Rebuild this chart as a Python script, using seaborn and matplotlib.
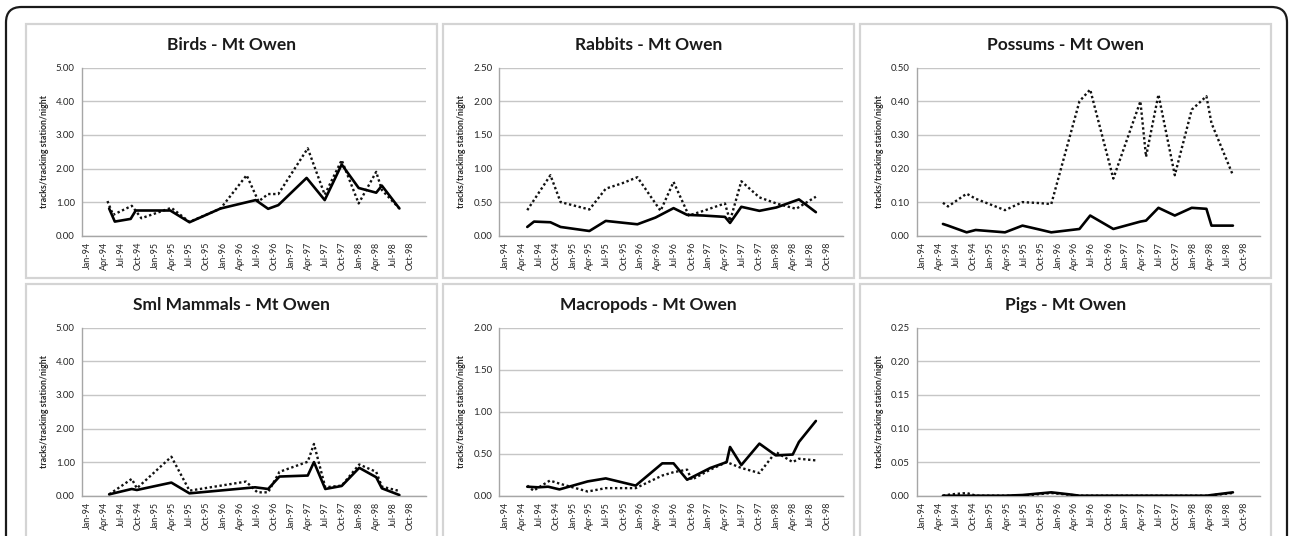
import numpy as np
import pandas as pd
import matplotlib
matplotlib.use("Agg")
import matplotlib.pyplot as plt
import seaborn as sns
from matplotlib.patches import FancyBboxPatch, Rectangle

# ---------------- data (x = months since Jan-1994) ----------------
tick_labels = ["Jan-94", "Apr-94", "Jul-94", "Oct-94", "Jan-95", "Apr-95", "Jul-95",
               "Oct-95", "Jan-96", "Apr-96", "Jul-96", "Oct-96", "Jan-97", "Apr-97",
               "Jul-97", "Oct-97", "Jan-98", "Apr-98", "Jul-98", "Oct-98"]
tick_months = [0, 3, 6, 9, 12, 15, 18, 21, 24, 27, 30, 33, 36, 39, 42, 45, 48, 51, 54, 57]

titles = ["Birds - Mt Owen", "Rabbits - Mt Owen", "Possums - Mt Owen",
          "Sml Mammals - Mt Owen", "Macropods - Mt Owen", "Pigs - Mt Owen"]
y_max = [5.0, 2.5, 0.5, 5.0, 2.0, 0.25]
y_step = [1.0, 0.5, 0.1, 1.0, 0.5, 0.05]

birds_x_solid = [3.8, 4.8, 7.6, 8.5, 14.6, 18.0, 23.5, 29.7, 31.9, 33.7, 38.7, 41.9, 44.9, 47.9, 51.0, 52.0, 55.1]
birds_solid = [0.81, 0.42, 0.50, 0.75, 0.75, 0.40, 0.81, 1.06, 0.80, 0.91, 1.72, 1.06, 2.12, 1.42, 1.28, 1.49, 0.81]
birds_x_dot = [3.5, 4.5, 7.8, 9.5, 14.8, 18.0, 23.5, 28.1, 30.2, 31.9, 33.7, 38.9, 41.9, 44.9, 47.9, 51.0, 52.0, 55.1]
birds_dot = [1.03, 0.62, 0.89, 0.52, 0.83, 0.41, 0.81, 1.80, 1.02, 1.24, 1.24, 2.60, 1.22, 2.25, 0.96, 1.90, 1.36, 0.81]

rabbits_x_solid = [3.9, 5.1, 8.0, 9.8, 14.9, 17.8, 23.4, 26.6, 29.8, 32.2, 35.1, 38.9, 39.8, 41.8, 45.0, 48.0, 52.0, 55.0]
rabbits_solid = [0.13, 0.21, 0.20, 0.13, 0.07, 0.22, 0.17, 0.27, 0.41, 0.31, 0.30, 0.28, 0.19, 0.43, 0.37, 0.42, 0.54, 0.35]
rabbits_x_dot = [3.9, 8.0, 9.8, 14.9, 17.8, 20.7, 23.4, 27.5, 29.8, 32.5, 35.1, 38.9, 39.8, 41.8, 45.0, 48.0, 51.5, 55.0]
rabbits_dot = [0.38, 0.90, 0.50, 0.39, 0.70, 0.78, 0.87, 0.37, 0.80, 0.30, 0.37, 0.48, 0.22, 0.81, 0.57, 0.48, 0.40, 0.58]

possums_x = [3.6, 4.5, 7.8, 9.4, 14.6, 17.7, 20.8, 22.8, 27.8, 29.7, 33.8, 38.6, 39.6, 41.8, 44.7, 47.7, 50.3, 51.2, 55.0]
possums_solid = [0.035, 0.030, 0.010, 0.017, 0.010, 0.030, 0.018, 0.010, 0.020, 0.060, 0.020, 0.042, 0.045, 0.083, 0.060, 0.083, 0.080, 0.030, 0.030]
possums_dot = [0.098, 0.087, 0.125, 0.110, 0.076, 0.100, 0.097, 0.094, 0.400, 0.435, 0.170, 0.400, 0.235, 0.420, 0.180, 0.375, 0.415, 0.335, 0.180]

sml_x_solid = [3.8, 7.8, 8.7, 14.8, 18.0, 29.6, 31.9, 33.9, 38.9, 40.0, 42.0, 44.9, 48.0, 51.0, 52.0, 55.1]
sml_solid = [0.04, 0.20, 0.17, 0.39, 0.07, 0.25, 0.20, 0.57, 0.60, 1.00, 0.20, 0.29, 0.83, 0.55, 0.22, 0.02]
sml_x_dot = [3.8, 7.8, 8.7, 14.8, 18.0, 28.0, 30.0, 31.9, 33.9, 38.9, 40.0, 42.0, 44.9, 48.0, 51.0, 52.0, 55.1]
sml_dot = [0.04, 0.50, 0.22, 1.16, 0.15, 0.42, 0.10, 0.10, 0.71, 1.01, 1.54, 0.25, 0.30, 0.93, 0.71, 0.27, 0.14]

macro_x_solid = [3.9, 5.8, 7.6, 9.6, 14.6, 17.8, 23.1, 27.8, 29.8, 32.2, 36.3, 39.2, 39.8, 41.8, 45.0, 47.9, 50.9, 52.0, 55.0]
macro_solid = [0.107, 0.100, 0.107, 0.075, 0.170, 0.206, 0.120, 0.385, 0.385, 0.190, 0.330, 0.400, 0.580, 0.365, 0.620, 0.480, 0.490, 0.640, 0.890]
macro_x_dot = [3.9, 5.0, 7.9, 9.8, 14.6, 17.8, 23.1, 27.8, 29.8, 32.2, 33.0, 36.3, 39.2, 41.8, 45.0, 47.9, 50.9, 52.0, 55.0]
macro_dot = [0.12, 0.06, 0.18, 0.14, 0.05, 0.09, 0.09, 0.24, 0.28, 0.31, 0.19, 0.31, 0.40, 0.33, 0.27, 0.52, 0.40, 0.44, 0.42]

pigs_x_solid = [3.6, 7.8, 9.5, 14.6, 17.7, 22.8, 26.0, 27.8, 33.8, 38.6, 41.8, 44.7, 47.7, 50.3, 51.2, 55.0]
pigs_solid = [0.0, 0.0, 0.0, 0.0, 0.001, 0.005, 0.002, 0.0, 0.0, 0.0, 0.0, 0.0, 0.0, 0.0, 0.001, 0.005]
pigs_x_dot = [3.6, 5.0, 6.5, 7.8, 9.5, 14.6, 17.7, 22.8, 27.8, 50.3, 55.0]
pigs_dot = [0.0, 0.002, 0.003, 0.004, 0.0, 0.0, 0.0, 0.004, 0.0, 0.0, 0.004]

series = [
    (birds_x_solid, birds_solid, birds_x_dot, birds_dot),
    (rabbits_x_solid, rabbits_solid, rabbits_x_dot, rabbits_dot),
    (possums_x, possums_solid, possums_x, possums_dot),
    (sml_x_solid, sml_solid, sml_x_dot, sml_dot),
    (macro_x_solid, macro_solid, macro_x_dot, macro_dot),
    (pigs_x_solid, pigs_solid, pigs_x_dot, pigs_dot),
]

# ---------------- style ----------------
sns.set_style("white")
plt.rcParams["font.family"] = ["Lato", "DejaVu Sans"]

W, H = 1289, 536
fig = plt.figure(figsize=(W / 100, H / 100), dpi=100)

# outer rounded frame
frame = FancyBboxPatch((6 / W, -0.1), (1281 / W), 1.1 - 7 / H,
                       boxstyle="round,pad=0,rounding_size=0.012",
                       transform=fig.transFigure, fill=False,
                       edgecolor="#1a1a1a", linewidth=1.6, mutation_aspect=W / H)
fig.patches.append(frame)

panel_left = [26, 443, 860]
panel_w = 411
row_top = [24, 284]
row_bot = [278, 600]
ax_left = [81.7, 499.3, 916.7]
ax_right = [426, 843, 1260]
ax_top = [67.7, 327.7]
ax_bottom = [235.7, 495.7]
title_y = [45, 305]

grid_c = "#c6c6c6"
axis_c = "#a6a6a6"
text_c = "#262626"

for i in range(6):
    r, c = divmod(i, 3)
    # panel box
    fig.patches.append(Rectangle((panel_left[c] / W, 1 - row_bot[r] / H),
                                 panel_w / W, (row_bot[r] - row_top[r]) / H,
                                 transform=fig.transFigure, fill=False,
                                 edgecolor="#d4d4d4", linewidth=1.6))
    fig.text((panel_left[c] + panel_w / 2) / W, 1 - title_y[r] / H, titles[i],
             ha="center", va="center", fontsize=12.5, fontweight="bold", color="#1a1a1a")

    ax = fig.add_axes([ax_left[c] / W, 1 - ax_bottom[r] / H,
                       (ax_right[c] - ax_left[c]) / W, (ax_bottom[r] - ax_top[r]) / H])
    xs, ys, xd, yd = series[i]
    sns.lineplot(x=xs, y=ys, ax=ax, color="black", linewidth=1.9, estimator=None,
                 sort=False, zorder=4)
    sns.lineplot(x=xd, y=yd, ax=ax, color="#111111", linewidth=1.7, estimator=None,
                 sort=False, zorder=3, linestyle=(0, (1, 1.1)))

    ax.set_xlim(-1.05, 59.8)
    ax.set_ylim(0, y_max[i])
    yt = np.arange(0, y_max[i] + y_step[i] / 2, y_step[i])
    ax.set_yticks(yt)
    ax.set_yticklabels([f"{v:.2f}" for v in yt], fontsize=7, color=text_c)
    ax.set_xticks(tick_months)
    ax.set_xticklabels(tick_labels, rotation=90, fontsize=6.5, color=text_c)
    ax.yaxis.grid(True, color=grid_c, linewidth=1.0, zorder=0)
    ax.xaxis.grid(False)
    ax.set_axisbelow(True)
    for s in ["top", "right"]:
        ax.spines[s].set_visible(False)
    for s in ["left", "bottom"]:
        ax.spines[s].set_color(axis_c)
        ax.spines[s].set_linewidth(1.0)
    ax.tick_params(axis="both", which="major", length=3, width=0.8, color=axis_c,
                   direction="out", pad=2)
    ax.tick_params(axis="x", pad=1.5)
    ax.set_ylabel("tracks/tracking station/night", fontsize=6.3, fontweight="bold",
                  color=text_c, labelpad=5)
    ax.set_xlabel("")
    ax.set_facecolor("white")

fig.savefig("out.png", dpi=100, facecolor="white")
